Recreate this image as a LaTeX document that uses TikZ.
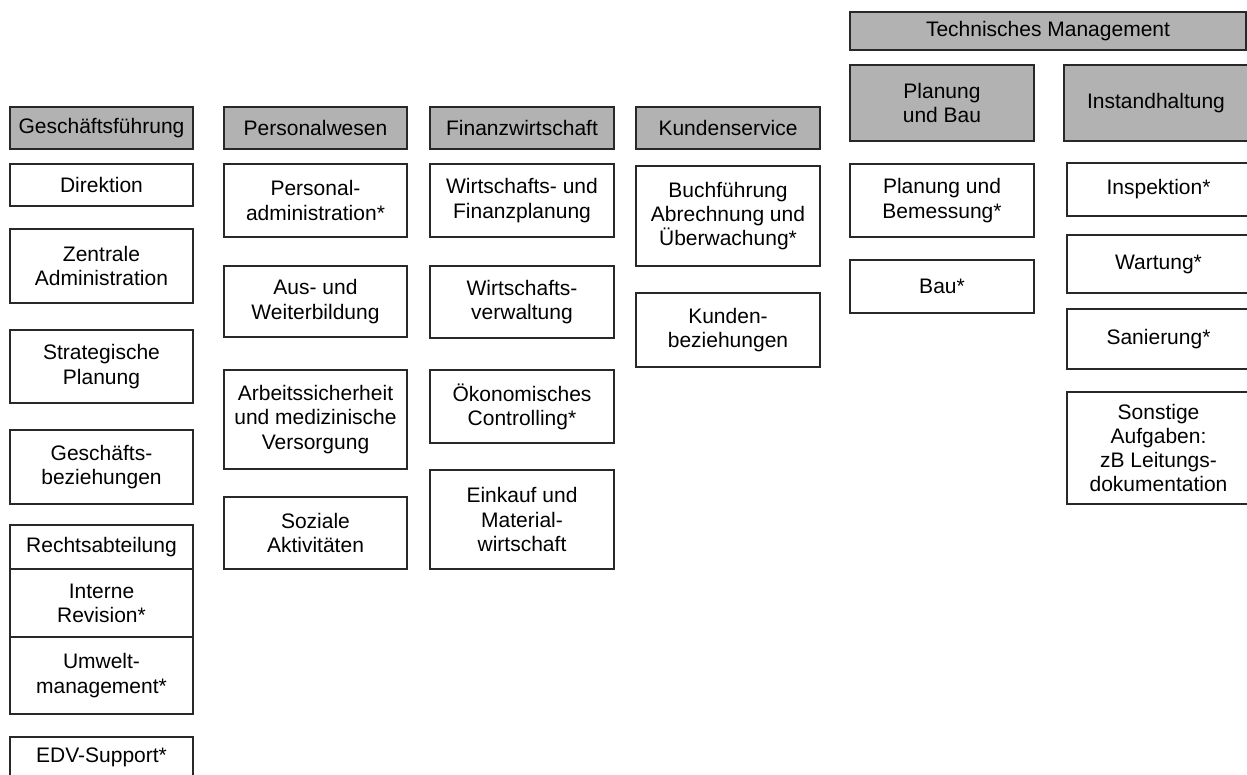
\documentclass[tikz,border=0pt]{standalone}
\usepackage{fontspec}
\setmainfont{Liberation Sans}
\definecolor{hdrgray}{RGB}{178,178,178}
\definecolor{edge}{RGB}{40,40,40}
\begin{document}
\begin{tikzpicture}[x=1pt, y=-1pt,
  unit/.style={draw=edge, line width=1.1pt, fill=white, inner sep=0pt, outer sep=0pt,
    align=center, text=black, font=\fontsize{21}{24.2}\selectfont},
  dept/.style={unit, fill=hdrgray},
  colA/.style={minimum width=183pt},
  colB/.style={minimum width=184pt}]
\useasboundingbox (0,0) rectangle (1247,774);
\clip (0,0) rectangle (1247,774);
\fill[white] (0,0) rectangle (1247,774);

% Geschäftsführung
\node[dept, colA, minimum height=42pt] (gf) at (101.5,128) {Geschäftsführung};
\node[unit, colA, minimum height=42pt] (gf1) at (101.5,185) {Direktion};
\node[unit, colA, minimum height=74pt] (gf2) at (101.5,266) {Zentrale\\Administration};
\node[unit, colA, minimum height=73pt] (gf3) at (101.5,366.5) {Strategische\\Planung};
\node[unit, colA, minimum height=74pt] (gf4) at (101.5,467) {Geschäfts-\\beziehungen};
\node[unit, colA, minimum height=44pt] (gf5) at (101.5,547) {Rechtsabteilung};
\node[unit, colA, minimum height=68pt] (gf6) at (101.5,603) {Interne\\Revision*};
\node[unit, colA, minimum height=77pt] (gf7) at (101.5,675.5) {Umwelt-\\management*};
\node[unit, colA, minimum height=40pt] (gf8) at (101.5,757) {EDV-Support*};

% Personalwesen
\node[dept, colA, minimum height=42pt] (pw) at (315.5,128) {Personalwesen};
\node[unit, colA, minimum height=73pt] (pw1) at (315.5,200.5) {Personal-\\administration*};
\node[unit, colA, minimum height=71pt] (pw2) at (315.5,301.5) {Aus- und\\Weiterbildung};
\node[unit, colA, minimum height=99pt] (pw3) at (315.5,419.5) {Arbeitssicherheit\\und medizinische\\Versorgung};
\node[unit, colA, minimum height=72pt] (pw4) at (315.5,533) {Soziale\\Aktivitäten};

% Finanzwirtschaft
\node[dept, colB, minimum height=42pt] (fw) at (522,128) {Finanzwirtschaft};
\node[unit, colB, minimum height=73pt] (fw1) at (522,200.5) {Wirtschafts- und\\Finanzplanung};
\node[unit, colB, minimum height=72pt] (fw2) at (522,302) {Wirtschafts-\\verwaltung};
\node[unit, colB, minimum height=73pt] (fw3) at (522,406.5) {Ökonomisches\\Controlling*};
\node[unit, colB, minimum height=99pt] (fw4) at (522,519.5) {Einkauf und\\Material-\\wirtschaft};

% Kundenservice
\node[dept, colB, minimum height=42pt] (ks) at (728,128) {Kundenservice};
\node[unit, colB, minimum height=100pt] (ks1) at (728,216) {Buchführung\\Abrechnung und\\Überwachung*};
\node[unit, colB, minimum height=74pt] (ks2) at (728,330) {Kunden-\\beziehungen};

% Technisches Management
\node[dept, minimum width=396pt, minimum height=38pt] (tm) at (1048,31) {Technisches Management};
\node[dept, colB, minimum height=76pt] (pb) at (942,103) {Planung\\und Bau};
\node[unit, colB, minimum height=73pt] (pb1) at (942,200.5) {Planung und\\Bemessung*};
\node[unit, colB, minimum height=53pt] (pb2) at (942,286.5) {Bau*};
\node[dept, colB, minimum height=76pt] (ih) at (1156,103) {Instandhaltung};
\node[unit, colA, minimum height=53pt] (ih1) at (1158.5,189.5) {Inspektion*};
\node[unit, colA, minimum height=58pt] (ih2) at (1158.5,264) {Wartung*};
\node[unit, colA, minimum height=60pt] (ih3) at (1158.5,339) {Sanierung*};
\node[unit, colA, minimum height=112pt] (ih4) at (1158.5,448) {Sonstige\\Aufgaben:\\zB Leitungs-\\dokumentation};
\end{tikzpicture}
\end{document}
